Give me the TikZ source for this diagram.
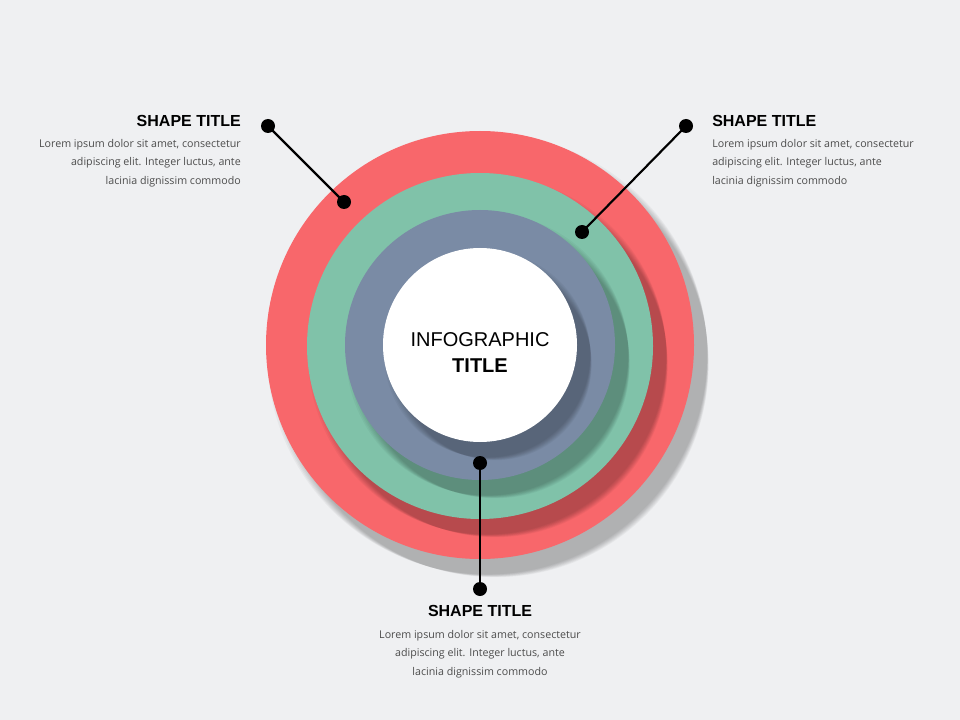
\documentclass[tikz,border=0pt]{standalone}
\usepackage{fontspec}
\setmainfont{Liberation Sans}
\newfontfamily\bodyfont{Open Sans}
\begin{document}
\begin{tikzpicture}[x=0.75pt,y=-0.75pt,
  dot/.style={circle,fill=black,inner sep=0pt,minimum size=10.5pt},
  conn/.style={line width=1.6pt},
  ttl/.style={font=\bfseries\fontsize{12}{14}\selectfont,inner sep=0pt},
  body/.style={font=\bodyfont\fontsize{8}{13.8}\selectfont,text=black!70,inner sep=0pt}]
\definecolor{bg}{HTML}{EFF0F2}
\definecolor{cred}{HTML}{F8676B}
\definecolor{cgreen}{HTML}{80C2A9}
\definecolor{cblue}{HTML}{7A8BA5}
\fill[bg] (0,0) rectangle (960,720);
\useasboundingbox (0,0) rectangle (960,720);
% shadows
\foreach \r/\c/\cx/\cy in {214/cred/480/345,173/cgreen/480/346,135/cblue/480/345,97/white/480/345}{
  \foreach \k in {1,...,8}{
    \fill[black,opacity=0.035] (\cx+6+\k*1.2,\cy+8+\k*1.4) circle ({\r+7-\k});
  }
  \fill[\c] (\cx,\cy) circle (\r);
}
\node[font=\fontsize{15}{18}\selectfont] (c1) at (480,340) {INFOGRAPHIC};
\node[font=\bfseries\fontsize{15}{18}\selectfont] (c2) at (480,366) {TITLE};
% connectors
\node[dot] (a1) at (268,126) {};
\node[dot] (a2) at (344,202) {};
\node[dot] (b1) at (686,126) {};
\node[dot] (b2) at (582,232) {};
\node[dot] (d1) at (480,463) {};
\node[dot] (d2) at (480,589) {};
\draw[conn] (a1.center) -- (a2.center);
\draw[conn] (b1.center) -- (b2.center);
\draw[conn] (d1.center) -- (d2.center);
% texts
\node[ttl,anchor=east] (t1) at (241,121) {SHAPE TITLE};
\node[body,anchor=north east,align=right] (p1) at (241,139) {Lorem ipsum dolor sit amet, consectetur\\adipiscing elit. Integer luctus, ante\\lacinia dignissim commodo};
\node[ttl,anchor=west] (t2) at (712,121) {SHAPE TITLE};
\node[body,anchor=north west,align=left] (p2) at (712,139) {Lorem ipsum dolor sit amet, consectetur\\adipiscing elit. Integer luctus, ante\\lacinia dignissim commodo};
\node[ttl] (t3) at (480,611) {SHAPE TITLE};
\node[body,anchor=north,align=center] (p3) at (480,630) {Lorem ipsum dolor sit amet, consectetur\\adipiscing elit. Integer luctus, ante\\lacinia dignissim commodo};
\end{tikzpicture}
\end{document}
